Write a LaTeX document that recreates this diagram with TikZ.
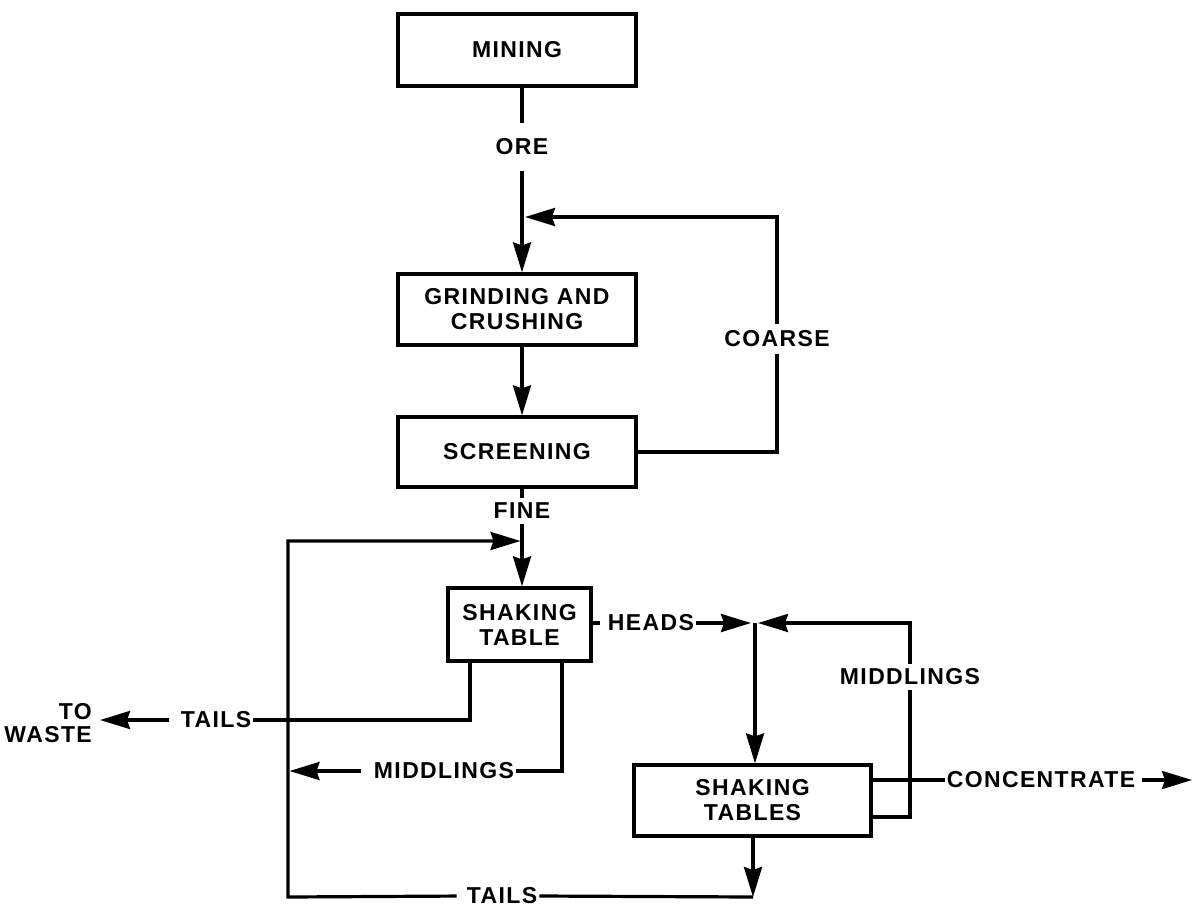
\documentclass[tikz,border=0pt]{standalone}
\usepackage{fontspec}
\newfontfamily\lblfont{Liberation Sans}[LetterSpace=6]
\usetikzlibrary{arrows.meta}
\begin{document}
\begin{tikzpicture}[x=1pt,y=-1pt,
  every node/.style={font=\lblfont\bfseries\fontsize{23}{25}\selectfont},
  unit/.style={draw, line width=3.2pt, inner sep=0pt, align=center},
  tag/.style={inner xsep=2pt, inner ysep=5pt, align=center},
  pipe/.style={line width=3.2pt},
  flow/.style={pipe, -{Stealth[length=30pt,width=18pt,inset=3pt]}},
]
% page frame
\fill[white] (0,0) rectangle (1193,907);
\useasboundingbox (0,0) rectangle (1193,907);

% process units
\node[unit, minimum width=238pt, minimum height=72pt] (mining) at (517,50) {MINING};
\node[unit, minimum width=238pt, minimum height=71pt] (grind) at (517,309.5) {GRINDING AND\\CRUSHING};
\node[unit, minimum width=238pt, minimum height=70pt] (screen) at (517,452) {SCREENING};
\node[unit, minimum width=143pt, minimum height=73pt] (table1) at (519.5,624.5) {SHAKING\\TABLE};
\node[unit, minimum width=237pt, minimum height=71pt] (table2) at (752.5,800.5) {SHAKING\\TABLES};

% stream labels
\node[tag, inner ysep=16pt] (ore) at (522,147) {ORE};
\node[tag, inner ysep=7pt] (coarse) at (777,339) {COARSE};
\node[tag] (fine) at (522,511) {FINE};
\node[tag] (heads) at (651,623) {HEADS};
\node[tag] (tails1) at (216,720) {TAILS};
\node[tag] (mid1) at (444,771) {MIDDLINGS};
\node[tag, align=right, anchor=east,
      font=\lblfont\bfseries\fontsize{23}{23}\selectfont] (waste) at (94,723) {TO\\WASTE};
\node[tag] (mid2) at (910,677) {MIDDLINGS};
\node[tag] (conc) at (1041,780) {CONCENTRATE};
\node[tag, inner ysep=3pt] (tails2) at (502,896) {TAILS};

% junctions and bends
\coordinate (j1) at (522,217);
\coordinate (j2) at (522,541);
\coordinate (j3) at (755,623);
\coordinate (lc) at (288,897);
\coordinate (lt) at (288,541);
\coordinate (tdrop) at (470,720);
\coordinate (mdrop) at (562,771);
\coordinate (mtip) at (289.5,771);
\coordinate (wtip) at (100,720);
\coordinate (mret) at (910,817);
\coordinate (cend) at (1192,780);
\coordinate (tcorner) at (753,897);

% main line
\draw[pipe] (ore |- mining.south) -- (ore.north);
\draw[flow] (ore.south) -- (ore |- grind.north);
\draw[flow] (ore |- grind.south) -- (ore |- screen.north);
\draw[pipe] (screen.east) -| (coarse.south);
\draw[flow] (coarse.north) |- ([xshift=3pt]j1);
\draw[pipe] (ore |- screen.south) -- (fine.north);
\draw[flow] (fine.south) -- (fine |- table1.north);

% first table outputs
\draw[pipe] (tdrop |- table1.south) -- (tdrop) -- (tails1.east);
\draw[flow, shorten <=10pt] (tails1.west) -- (wtip);
\draw[pipe] (mdrop |- table1.south) -- (mdrop) -- (mid1.east);
\draw[flow, shorten <=11pt] (mid1.west) -- (mtip);
\draw[pipe, shorten >=6pt] (heads -| table1.east) -- (heads.west);
\draw[flow] (heads.east) -- ([xshift=-4pt]j3);

% second table
\draw[flow] (j3) -- (j3 |- table2.north);
\draw[pipe] (mret -| table2.east) -- (mret) -- (mid2.south);
\draw[flow] (mid2.north) |- ([xshift=3pt]j3);
\draw[pipe] (conc -| table2.east) -- (conc.west);
\draw[flow, shorten <=5pt] (conc.east) -- (cend);
\draw[flow] (table2.south -| tcorner) -- (tcorner);
\draw[pipe] (tails2.east) -- (tcorner);
\draw[flow, shorten <=8pt] (tails2.west) -- (lc) -- (lt) -- ([xshift=-1.5pt]j2);
\end{tikzpicture}
\end{document}
